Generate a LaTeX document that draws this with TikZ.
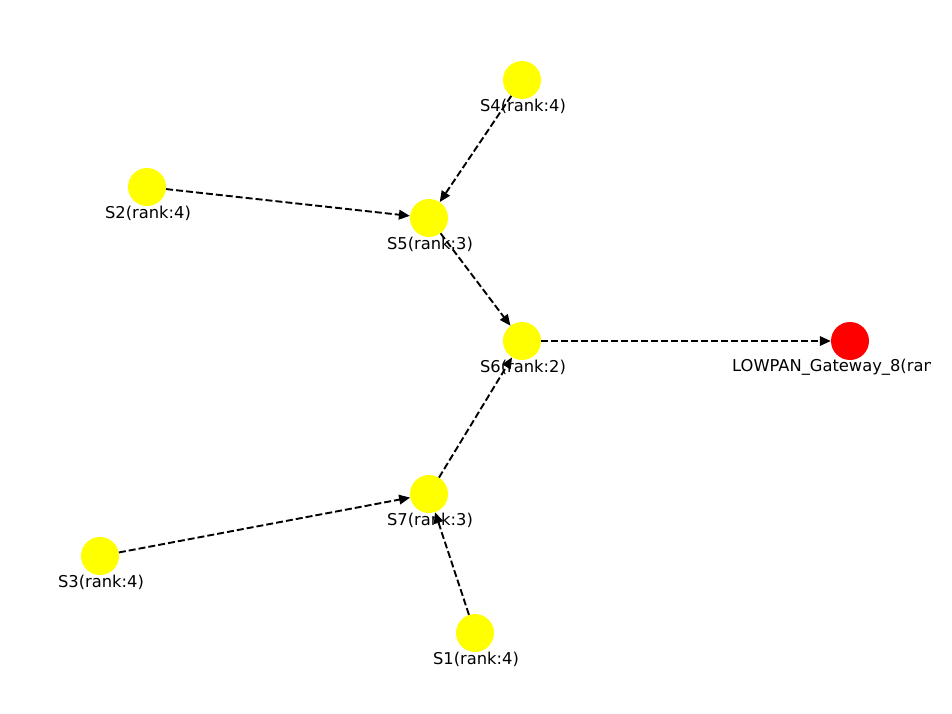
\documentclass[tikz,border=0pt]{standalone}
\usepackage{fontspec}
\setmainfont{DejaVu Sans}
\usetikzlibrary{arrows.meta}
\definecolor{nodeyellow}{RGB}{255,255,0}
\definecolor{nodered}{RGB}{255,0,0}
\begin{document}
\begin{tikzpicture}[x=1pt,y=-1pt,
  sensor/.style={circle,fill=nodeyellow,minimum size=38pt,inner sep=0pt},
  gwnode/.style={circle,fill=nodered,minimum size=38pt,inner sep=0pt},
  lbl/.style={font=\fontsize{16.3}{19}\selectfont,text=black,inner sep=0pt},
  link/.style={draw=black,line width=1.9pt,dash pattern=on 7pt off 3pt,
    -{Triangle[length=11pt,width=9.5pt]}}]
\useasboundingbox (0,0) rectangle (952,714);
\begin{scope}
\clip (0,0) rectangle (930,714);
% nodes
\node[sensor] (s4) at (522,80) {};
\node[sensor] (s2) at (147,187) {};
\node[sensor] (s5) at (429,218) {};
\node[sensor] (s6) at (522,341) {};
\node[gwnode] (gw) at (850,341) {};
\node[sensor] (s7) at (429,494) {};
\node[sensor] (s3) at (100,556) {};
\node[sensor] (s1) at (475,633) {};
% edges
\draw[link] (s4) -- (s5);
\draw[link] (s2) -- (s5);
\draw[link] (s5) -- (s6);
\draw[link] (s6) -- (gw);
\draw[link] (s7) -- (s6);
\draw[link] (s3) -- (s7);
\draw[link] (s1) -- (s7);
% labels
\node[lbl] (l4) at (523,106) {S4(rank:4)};
\node[lbl] (l2) at (148,213) {S2(rank:4)};
\node[lbl] (l5) at (430,244) {S5(rank:3)};
\node[lbl] (l6) at (523,367) {S6(rank:2)};
\node[lbl,anchor=west] (lg) at (732,367) {LOWPAN\_Gateway\_8(ran};
\node[lbl] (l7) at (430,520) {S7(rank:3)};
\node[lbl] (l3) at (101,582) {S3(rank:4)};
\node[lbl] (l1) at (476,659) {S1(rank:4)};
\end{scope}
\end{tikzpicture}
\end{document}
